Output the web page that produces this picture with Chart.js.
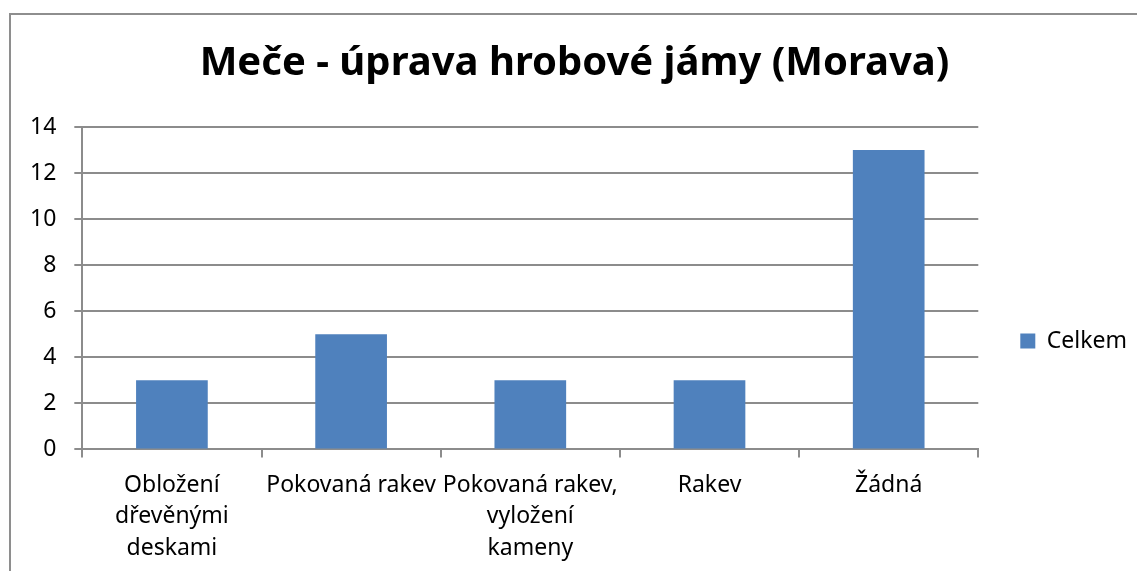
<!DOCTYPE html>
<html>
<head>
<meta charset="utf-8">
<script src="https://cdn.jsdelivr.net/npm/chart.js@4"></script>
<style>
  html, body { margin: 0; padding: 0; background: #fff; overflow: hidden; }
  #ramecek { position: absolute; left: 9px; top: 13px; width: 1300px; height: 700px; border: 2px solid #8e8e8e; }
  #obal { position: absolute; left: 0; top: 0; width: 1137px; height: 571px; }
</style>
</head>
<body>
<div id="ramecek"></div>
<div id="obal"><canvas id="graf"></canvas></div>
<script>
// kategorie a hodnoty
let kategorie = [
    ["Obložení", "dřevěnými", "deskami"],
    "Pokovaná rakev",
    ["Pokovaná rakev,", "vyložení", "kameny"],
    "Rakev",
    "Žádná",
];
let celkem = [3, 5, 3, 3, 13];
let nazevGrafu = "Meče - úprava hrobové jámy (Morava)";

let seda = "#8c8c8c";
let pismo = "'Noto Sans', sans-serif";

let grafCan = document.getElementById("graf").getContext("2d");
var graf = new Chart(grafCan, {
    type: "bar",
    data: {
        labels: kategorie,
        datasets: [{
            label: "Celkem",
            data: celkem,
            backgroundColor: "#4F81BD",
            borderWidth: 0,
            barPercentage: 0.4,
            categoryPercentage: 1,
        }, ],
    },
    options: {
        animation: false,
        responsive: true,
        maintainAspectRatio: false,
        layout: {
            // záporný spodní okraj: popisky osy x smí přesahovat až k okraji
            padding: { left: 12, right: 0, top: 0, bottom: -5 },
        },
        scales: {
            y: {
                min: 0,
                max: 14,
                ticks: {
                    stepSize: 2,
                    color: "#000",
                    padding: 18,
                    font: { family: pismo, size: 23 },
                },
                grid: {
                    color: seda,
                    lineWidth: 2,
                    tickLength: 8,
                },
                border: { color: seda, width: 2 },
            },
            x: {
                ticks: {
                    color: "#000",
                    padding: 12,
                    maxRotation: 0,
                    autoSkip: false,
                    font: { family: pismo, size: 23, lineHeight: 1.37 },
                },
                grid: {
                    offset: true,
                    drawOnChartArea: false,
                    color: seda,
                    lineWidth: 2,
                    tickLength: 8,
                },
                border: { color: seda, width: 2 },
            },
        },
        plugins: {
            title: {
                display: true,
                text: nazevGrafu,
                color: "#000",
                font: { family: pismo, size: 40, weight: "bold" },
                padding: { top: 40, bottom: 39 },
            },
            legend: {
                position: "right",
                fullSize: true,
                // prázdný titulek jen posune položku legendy níž
                title: {
                    display: true,
                    text: " ",
                    font: { size: 10 },
                    padding: { top: 47, bottom: 47 },
                },
                labels: {
                    color: "#000",
                    boxWidth: 15,
                    boxHeight: 15,
                    padding: 42,
                    font: { family: pismo, size: 23 },
                },
            },
            tooltip: { enabled: false },
        },
    },
});
</script>
</body>
</html>
